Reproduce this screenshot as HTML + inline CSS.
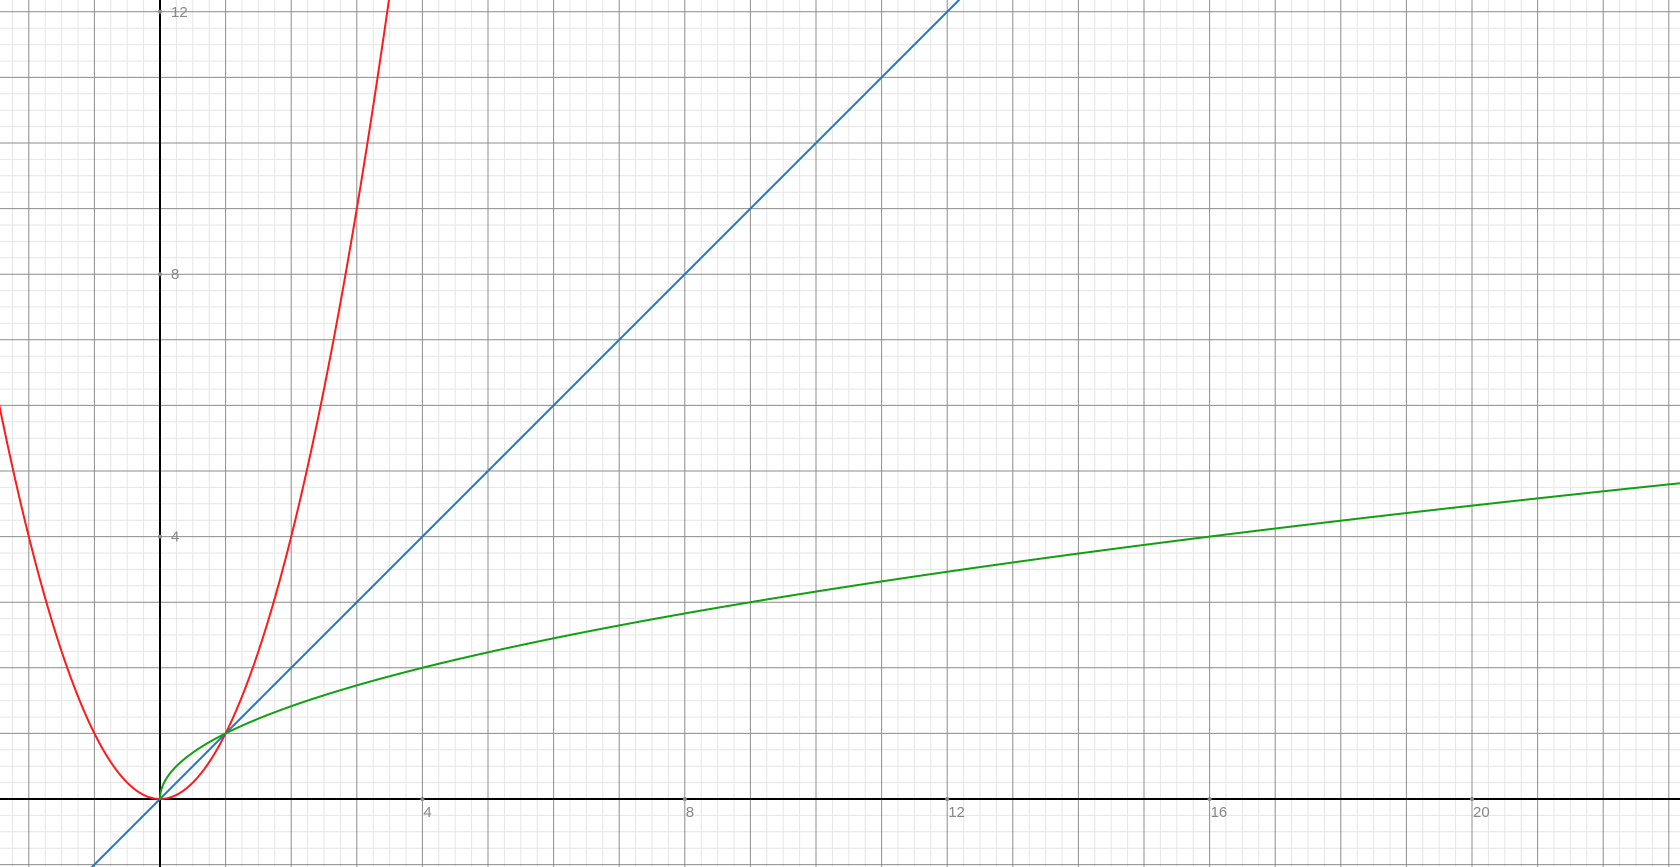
<!DOCTYPE html>
<html><head><meta charset="utf-8"><style>
html,body{margin:0;padding:0;background:#fff;overflow:hidden;width:1680px;height:867px}
svg{display:block;overflow:hidden}
text{font-family:"Liberation Sans",sans-serif;font-size:15px;fill:#888}
</style></head><body>
<svg id="chart" width="1680" height="867" viewBox="0 0 1680 867" xmlns="http://www.w3.org/2000/svg"></svg>
<script>
const xTicks = [4, 8, 12, 16, 20];
const yTicks = [4, 8, 12];
const seriesNames = ["parabola", "identity", "square-root"];
const seriesColors = ["#ff1a1a", "#1f78c8", "#10a010"];
const seriesExprs = ["x*x", "x", "Math.sqrt(x)"];
const seriesDomainMin = [-3, -3, 0];

const W=1680,H=867,ox=160,oy=799,u=65.6;
const X=v=>ox+v*u, Y=v=>oy-v*u;
const NS="http://www.w3.org/2000/svg";
const svg=document.getElementById('chart');
function mk(t,a,p){const e=document.createElementNS(NS,t);for(const k in a)e.setAttribute(k,a[k]);(p||svg).appendChild(e);return e;}
const xmin=-ox/u,xmax=(W-ox)/u,ymin=-(H-oy)/u,ymax=oy/u;
const defs=mk('defs',{});
const cp=mk('clipPath',{id:'clip'},defs);
mk('rect',{x:0,y:0,width:W,height:H},cp);

const minor=mk('g',{});


for(let i=Math.ceil(xmin*4);i<=xmax*4;i++){if(i%4)mk('line',{x1:X(i/4),x2:X(i/4),y1:0,y2:H,stroke:'#e6e6e6','stroke-width':1},minor);}
for(let i=Math.ceil(ymin*4);i<=ymax*4;i++){if(i%4)mk('line',{x1:0,x2:W,y1:Y(i/4),y2:Y(i/4),stroke:'#e6e6e6','stroke-width':1},minor);}
const major=mk('g',{});


for(let i=Math.ceil(xmin);i<=xmax;i++){if(i)mk('line',{x1:X(i),x2:X(i),y1:0,y2:H,stroke:'#8c8c8c','stroke-width':1},major);}
for(let i=Math.ceil(ymin);i<=ymax;i++){if(i)mk('line',{x1:0,x2:W,y1:Y(i),y2:Y(i),stroke:'#8c8c8c','stroke-width':1},major);}

const xa=mk('line',{x1:0,x2:W,y1:oy,y2:oy,stroke:'#000','stroke-width':2});


const ya=mk('line',{x1:ox,x2:ox,y1:0,y2:H,stroke:'#000','stroke-width':2});



xTicks.forEach(v=>{
  mk('circle',{cx:X(v),cy:oy,r:2,fill:'#888'});
  const t=mk('text',{x:X(v)+1,y:oy+18});t.textContent=v;
  
  
});
yTicks.forEach(v=>{
  mk('circle',{cx:ox,cy:Y(v),r:2,fill:'#888'});
  const t=mk('text',{x:ox+11,y:Y(v)+5});t.textContent=v;
  
  
});

const curves=mk('g',{'clip-path':'url(#clip)'});


seriesNames.forEach((n,i)=>{
  const f=new Function('x','return '+seriesExprs[i]);
  let d='';const x0=Math.max(seriesDomainMin[i],xmin-0.1);
  for(let k=0;k<=3000;k++){const x=x0+(xmax+0.1-x0)*k/3000;const y=f(x);if(y>ymax+0.5||y<ymin-0.5)continue;d+=(d?'L':'M')+X(x).toFixed(2)+','+Y(y).toFixed(2);}
  const p=mk('path',{d:d,fill:'none',stroke:seriesColors[i],'stroke-width':2},curves);
  
  
});
</script>
</body></html>
